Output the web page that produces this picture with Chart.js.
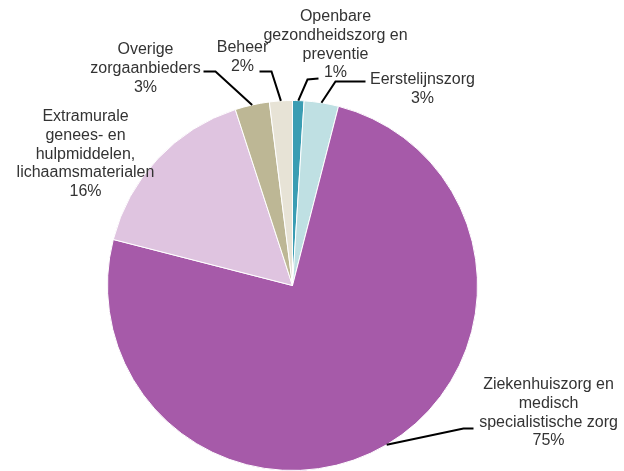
<!DOCTYPE html>
<html>
<head>
<meta charset="utf-8">
<script src="https://cdn.jsdelivr.net/npm/chart.js@4/dist/chart.umd.min.js"></script>
<style>
  html, body { margin: 0; padding: 0; background: #fff; }
  #wrap { width: 624px; height: 471px; }
</style>
</head>
<body>
<div id="wrap"><canvas id="chart" width="624" height="471"></canvas></div>
<script>
// zorguitgaven per sector (procenten)
const categories = [
    ['Openbare', 'gezondheidszorg en', 'preventie'],
    ['Eerstelijnszorg'],
    ['Ziekenhuiszorg en', 'medisch', 'specialistische zorg'],
    ['Extramurale', 'genees- en', 'hulpmiddelen,', 'lichaamsmaterialen'],
    ['Overige', 'zorgaanbieders'],
    ['Beheer']
];
const shares = [1, 3, 75, 16, 3, 2];
const colors = ['#3a9db3', '#bfe0e3', '#a65aa9', '#dfc4e0', '#bdb795', '#e7e3d6'];

// where each label goes: text centre (first line), and the elbow of the leader line
// offsets are relative to the pie centre; null leader = no line
const labelLayout = [
    { x: 43,   y: -269, leader: [[15, -206], [26, -207]] },
    { x: 130,  y: -206, leader: [[43, -204], [73, -204]] },
    { x: 256,  y: 99,   leader: [[171, 143], [181, 143]] },
    { x: -207, y: -169, leader: null },
    { x: -147, y: -236, leader: [[-77, -214], [-89, -214]] },
    { x: -50,  y: -238, leader: [[-21, -214], [-33, -214]] }
];

const lineH = 18.8;

const pieLabels = {
    id: 'pieLabels',
    afterDraw(chart) {
        const ctx = chart.ctx;
        const meta = chart.getDatasetMeta(0);
        ctx.save();
        ctx.font = '16px "Liberation Sans", Arial, sans-serif';
        ctx.fillStyle = '#333333';
        ctx.textAlign = 'center';
        ctx.textBaseline = 'middle';
        meta.data.forEach(function (arc, i) {
            const cx = arc.x, cy = arc.y;
            const lay = labelLayout[i];
            if (lay.leader) {
                const mid = (arc.startAngle + arc.endAngle) / 2;
                ctx.beginPath();
                ctx.strokeStyle = '#000';
                ctx.lineWidth = 2;
                ctx.moveTo(cx + Math.cos(mid) * arc.outerRadius, cy + Math.sin(mid) * arc.outerRadius);
                lay.leader.forEach(function (p) { ctx.lineTo(cx + p[0], cy + p[1]); });
                ctx.stroke();
            }
            const lines = categories[i].concat([shares[i] + '%']);
            lines.forEach(function (t, k) {
                ctx.fillText(t, cx + lay.x, cy + lay.y + k * lineH);
            });
        });
        ctx.restore();
    }
};

new Chart(document.getElementById('chart').getContext('2d'), {
    type: 'pie',
    data: {
        labels: categories.map(function (c) { return c.join(' '); }),
        datasets: [{
            data: shares,
            backgroundColor: colors,
            borderColor: '#ffffff',
            borderWidth: 1
        }]
    },
    options: {
        responsive: false,
        animation: false,
        layout: { padding: { top: 100, bottom: 0, left: 107, right: 146 } },
        plugins: {
            legend: { display: false },
            tooltip: { enabled: false }
        }
    },
    plugins: [pieLabels]
});
</script>
</body>
</html>
